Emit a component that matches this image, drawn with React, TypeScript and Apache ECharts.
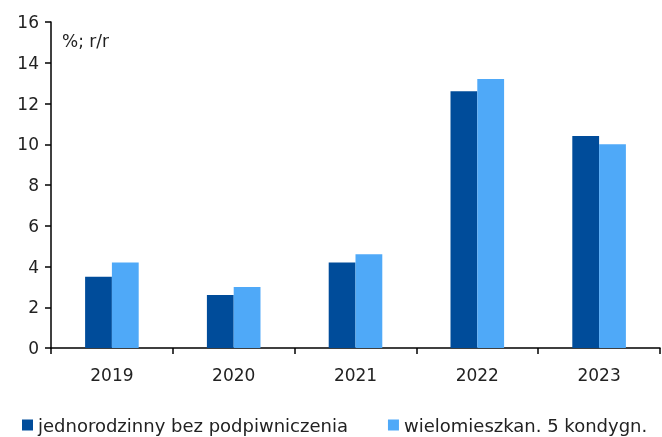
import React, { useEffect, useRef } from "react";
import * as echarts from "echarts";

const categories = ["2019", "2020", "2021", "2022", "2023"];
const seriesNames = ["jednorodzinny bez podpiwniczenia", "wielomieszkan. 5 kondygn."];
const singleFamily = [3.5, 2.6, 4.2, 12.6, 10.4];
const multiFamily = [4.2, 3.0, 4.6, 13.2, 10.0];
const unitLabel = "%; r/r";

const FONT = "DejaVu Sans";

export default function App() {
  const ref = useRef<HTMLDivElement>(null);
  useEffect(() => {
    const chart = echarts.init(ref.current!, null, { renderer: "svg" });
    chart.setOption({
      animation: false,
      textStyle: { fontFamily: FONT, color: "#222" },
      grid: { left: 51, right: 2, top: 22, bottom: 89 },
      legend: {
        top: 411,
        left: 17,
        itemWidth: 11,
        itemHeight: 11,
        itemGap: 40,
        icon: "rect",
        textStyle: { fontFamily: FONT, fontSize: 18, color: "#222" },
        data: seriesNames,
      },
      graphic: [
        {
          type: "text",
          left: 62,
          top: 32,
          style: { text: unitLabel, font: `17px ${FONT}`, fill: "#222" },
        },
      ],
      xAxis: {
        type: "category",
        data: categories,
        axisLine: { lineStyle: { color: "#000", width: 1.5 } },
        axisTick: { show: true, length: 6, lineStyle: { color: "#000", width: 1.5 } },
        axisLabel: { fontSize: 17, color: "#222", margin: 18, fontFamily: FONT },
      },
      yAxis: {
        type: "value",
        min: 0,
        max: 16,
        interval: 2,
        splitLine: { show: false },
        axisLine: { show: true, lineStyle: { color: "#000", width: 1.5 } },
        axisTick: { show: true, length: 6, lineStyle: { color: "#000", width: 1.5 } },
        axisLabel: { fontSize: 17, color: "#222", margin: 12, fontFamily: FONT },
      },
      series: [
        {
          name: seriesNames[0],
          type: "bar",
          data: singleFamily,
          barWidth: "22%",
          barGap: "0%",
          itemStyle: { color: "#004c9a" },
        },
        {
          name: seriesNames[1],
          type: "bar",
          data: multiFamily,
          barWidth: "22%",
          itemStyle: { color: "#4fa9f8" },
        },
      ],
    });
    return () => chart.dispose();
  }, []);
  return (
    <div
      ref={ref}
      style={{ position: "fixed", left: 0, top: 0, width: 662, height: 437 }}
    />
  );
}
